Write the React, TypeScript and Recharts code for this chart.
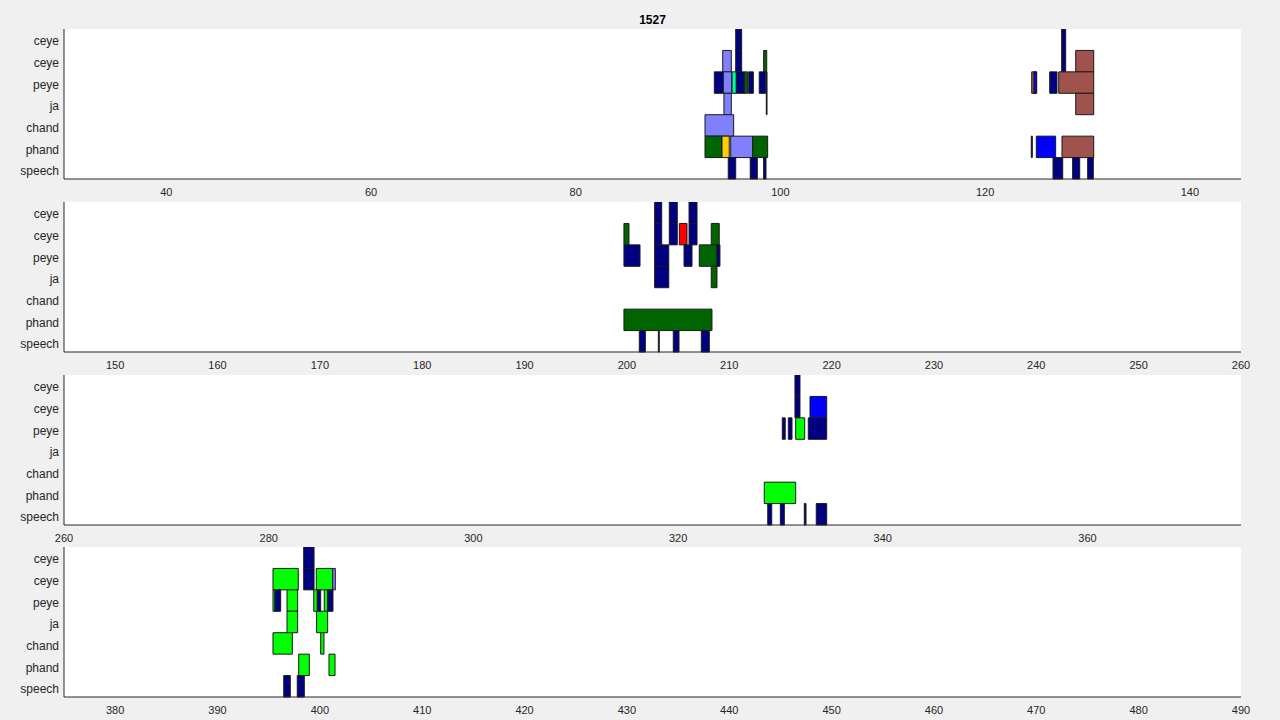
import React from "react";
import { ComposedChart, XAxis, YAxis, ReferenceArea, CartesianGrid } from "recharts";

// rows from bottom to top
const rowKeys = ["speech", "phand", "chand", "ja", "peye", "ceye2", "ceye1"];
const rowLabels = ["speech", "phand", "chand", "ja", "peye", "ceye", "ceye"];
const rowTicks = [0.5, 1.5, 2.5, 3.5, 4.5, 5.5, 6.5];

const COLORS: Record<string, string> = {
  N: "#000080",
  L: "#8080ff",
  G: "#006400",
  S: "#00ff99",
  Y: "#ffcc00",
  R: "#a0524d",
  B: "#0000ff",
  E: "#ff0000",
  V: "#00ff00",
  K: "#000000",
};

type Seg = [string, number, number, string];

const panel1Ticks = [40, 60, 80, 100, 120, 140];
const panel1Segs: Seg[] = [
  ["ceye1", 95.63, 96.21, "N"],
  ["ceye1", 127.48, 127.87, "N"],
  ["ceye2", 94.36, 95.2, "L"],
  ["ceye2", 95.63, 96.21, "N"],
  ["ceye2", 98.36, 98.66, "G"],
  ["ceye2", 127.48, 127.87, "N"],
  ["ceye2", 128.85, 130.61, "R"],
  ["peye", 93.54, 94.42, "N"],
  ["peye", 94.42, 95.24, "L"],
  ["peye", 95.27, 95.69, "S"],
  ["peye", 95.69, 96.47, "N"],
  ["peye", 96.47, 96.8, "G"],
  ["peye", 96.9, 97.35, "N"],
  ["peye", 97.93, 98.56, "N"],
  ["peye", 98.62, 98.69, "K"],
  ["peye", 124.55, 125.04, "R"],
  ["peye", 124.77, 125.0, "B"],
  ["peye", 126.31, 127.02, "N"],
  ["peye", 127.19, 130.61, "R"],
  ["ja", 94.48, 95.2, "L"],
  ["ja", 98.62, 98.69, "K"],
  ["ja", 128.85, 130.61, "R"],
  ["chand", 92.63, 95.43, "L"],
  ["phand", 92.63, 94.29, "G"],
  ["phand", 94.29, 95.0, "Y"],
  ["phand", 95.14, 97.29, "L"],
  ["phand", 97.29, 98.75, "G"],
  ["phand", 124.51, 124.61, "K"],
  ["phand", 125.0, 126.89, "B"],
  ["phand", 127.51, 130.61, "R"],
  ["speech", 94.9, 95.63, "N"],
  ["speech", 97.05, 97.74, "N"],
  ["speech", 98.36, 98.59, "N"],
  ["speech", 126.63, 127.58, "N"],
  ["speech", 128.55, 129.24, "N"],
  ["speech", 130.02, 130.57, "N"],
];

const panel2Ticks = [150, 160, 170, 180, 190, 200, 210, 220, 230, 240, 250, 260];
const panel2Segs: Seg[] = [
  ["ceye1", 202.71, 203.4, "N"],
  ["ceye1", 204.14, 204.92, "N"],
  ["ceye1", 206.07, 206.85, "N"],
  ["ceye2", 199.71, 200.2, "G"],
  ["ceye2", 202.71, 203.4, "N"],
  ["ceye2", 204.14, 204.92, "N"],
  ["ceye2", 205.12, 205.87, "E"],
  ["ceye2", 206.07, 206.85, "N"],
  ["ceye2", 208.24, 209.02, "G"],
  ["peye", 199.71, 201.28, "N"],
  ["peye", 202.71, 204.09, "N"],
  ["peye", 205.58, 206.36, "N"],
  ["peye", 207.07, 208.8, "G"],
  ["peye", 208.8, 209.09, "N"],
  ["ja", 202.71, 204.09, "N"],
  ["ja", 208.24, 208.8, "G"],
  ["phand", 199.71, 208.31, "G"],
  ["speech", 201.21, 201.8, "N"],
  ["speech", 203.07, 203.16, "K"],
  ["speech", 204.53, 205.09, "N"],
  ["speech", 207.27, 208.05, "N"],
];

const panel3Ticks = [260, 280, 300, 320, 340, 360];
const panel3Segs: Seg[] = [
  ["ceye1", 331.42, 331.91, "N"],
  ["ceye2", 331.42, 331.91, "N"],
  ["ceye2", 332.89, 334.52, "B"],
  ["peye", 330.18, 330.47, "N"],
  ["peye", 330.77, 331.13, "N"],
  ["peye", 331.49, 332.37, "V"],
  ["peye", 332.72, 334.52, "N"],
  ["phand", 328.42, 331.49, "V"],
  ["speech", 328.76, 329.15, "N"],
  ["speech", 329.99, 330.38, "N"],
  ["speech", 332.33, 332.5, "N"],
  ["speech", 333.5, 334.52, "N"],
];

const panel4Ticks = [380, 390, 400, 410, 420, 430, 440, 450, 460, 470, 480, 490];
const panel4Segs: Seg[] = [
  ["ceye1", 398.42, 399.43, "N"],
  ["ceye2", 395.42, 397.89, "V"],
  ["ceye2", 398.42, 399.43, "N"],
  ["ceye2", 399.65, 401.25, "V"],
  ["ceye2", 401.25, 401.51, "L"],
  ["peye", 395.42, 395.61, "V"],
  ["peye", 395.61, 396.17, "N"],
  ["peye", 396.79, 397.83, "V"],
  ["peye", 399.4, 399.75, "V"],
  ["peye", 399.75, 400.08, "N"],
  ["peye", 400.43, 400.76, "V"],
  ["peye", 400.76, 401.28, "N"],
  ["ja", 396.79, 397.83, "V"],
  ["ja", 399.68, 400.76, "V"],
  ["chand", 395.42, 397.31, "V"],
  ["chand", 400.08, 400.4, "V"],
  ["phand", 397.93, 398.97, "V"],
  ["phand", 400.89, 401.48, "V"],
  ["speech", 396.47, 397.11, "N"],
  ["speech", 397.79, 398.48, "N"],
];

const FONT = "'Liberation Sans', Arial, Helvetica, sans-serif";
const TEXT = "#262626";

// y labels sit a little lower than the row centres, like the original
function RowTick(props: any) {
  const { x, y, payload, index } = props;
  return (
    <text
      x={x}
      y={y + 2.7 - 0.23 * index}
      dy="0.355em"
      textAnchor="end"
      fontSize={12}
      fontFamily={FONT}
      fill={TEXT}
    >
      {rowLabels[Math.floor(payload.value)]}
    </text>
  );
}

function Panel({ top, domain, ticks, segs }: { top: number; domain: [number, number]; ticks: number[]; segs: Seg[] }) {
  return (
    <div style={{ position: "absolute", left: 0, top, width: 1280, height: 180 }}>
      <ComposedChart width={1280} height={180} data={[]} margin={{ top: 0, right: 39, bottom: 0, left: 0 }}>
        <CartesianGrid horizontal={false} vertical={false} fill="#ffffff" fillOpacity={1} />
        <XAxis
          type="number"
          dataKey="x"
          domain={domain}
          ticks={ticks}
          interval={0}
          allowDataOverflow
          height={30}
          tickLine={false}
          tickSize={5}
          tickMargin={4}
          axisLine={{ stroke: TEXT }}
          tick={{ fontSize: 11, fill: TEXT, fontFamily: FONT }}
        />
        <YAxis
          type="number"
          domain={[0, 7]}
          ticks={rowTicks}
          interval={0}
          allowDataOverflow
          width={64}
          tickLine={false}
          tickSize={3}
          tickMargin={2}
          axisLine={{ stroke: TEXT }}
          tick={<RowTick />}
        />
        {segs.map(([row, start, end, c], i) => {
          const r = rowKeys.indexOf(row);
          return (
            <ReferenceArea
              key={i}
              x1={start}
              x2={end}
              y1={r}
              y2={r + 1}
              fill={COLORS[c]}
              fillOpacity={1}
              stroke="#1a1a1a"
              strokeWidth={1}
              strokeOpacity={1}
            />
          );
        })}
      </ComposedChart>
    </div>
  );
}

export default function App() {
  return (
    <div style={{ position: "absolute", left: 0, top: 0, width: 1280, height: 720, background: "#f0f0f0", fontFamily: FONT }}>
      <div
        style={{
          position: "absolute",
          left: 64,
          width: 1177,
          top: 13,
          textAlign: "center",
          fontWeight: "bold",
          fontSize: 12,
          color: "#000",
        }}
      >
        1527
      </div>
      <Panel top={29} domain={[30, 145]} ticks={panel1Ticks} segs={panel1Segs} />
      <Panel top={202} domain={[145, 260]} ticks={panel2Ticks} segs={panel2Segs} />
      <Panel top={375} domain={[260, 375]} ticks={panel3Ticks} segs={panel3Segs} />
      <Panel top={547} domain={[375, 490]} ticks={panel4Ticks} segs={panel4Segs} />
    </div>
  );
}
